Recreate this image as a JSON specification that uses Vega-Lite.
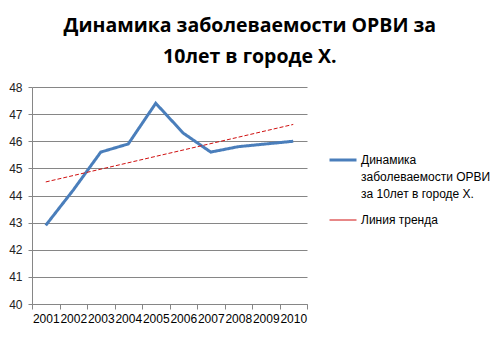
{
  "$schema": "https://vega.github.io/schema/vega-lite/v6.json",
  "width": 275,
  "height": 217,
  "padding": {"left": 8, "top": 15, "right": 5, "bottom": 5},
  "background": "white",
  "config": {"view": {"stroke": null}},
  "title": {
    "text": ["Динамика заболеваемости ОРВИ за", "10лет в городе Х."],
    "font": "Open Sans",
    "fontSize": 19.5,
    "fontWeight": "bold",
    "color": "black",
    "anchor": "middle",
    "frame": "bounds",
    "lineHeight": 31,
    "offset": 14
  },
  "data": {
    "values": [
      {"year": "2001", "series": "Динамика заболеваемости ОРВИ за 10лет в городе Х.", "value": 42.9},
      {"year": "2002", "series": "Динамика заболеваемости ОРВИ за 10лет в городе Х.", "value": 44.2},
      {"year": "2003", "series": "Динамика заболеваемости ОРВИ за 10лет в городе Х.", "value": 45.6},
      {"year": "2004", "series": "Динамика заболеваемости ОРВИ за 10лет в городе Х.", "value": 45.9},
      {"year": "2005", "series": "Динамика заболеваемости ОРВИ за 10лет в городе Х.", "value": 47.4},
      {"year": "2006", "series": "Динамика заболеваемости ОРВИ за 10лет в городе Х.", "value": 46.3},
      {"year": "2007", "series": "Динамика заболеваемости ОРВИ за 10лет в городе Х.", "value": 45.6},
      {"year": "2008", "series": "Динамика заболеваемости ОРВИ за 10лет в городе Х.", "value": 45.8},
      {"year": "2009", "series": "Динамика заболеваемости ОРВИ за 10лет в городе Х.", "value": 45.9},
      {"year": "2010", "series": "Динамика заболеваемости ОРВИ за 10лет в городе Х.", "value": 46.0},
      {"year": "2001", "series": "Линия тренда", "value": 44.5},
      {"year": "2010", "series": "Линия тренда", "value": 46.62}
    ]
  },
  "mark": {"type": "line"},
  "encoding": {
    "x": {
      "field": "year",
      "type": "ordinal",
      "bandPosition": 0.5,
      "scale": {"type": "band", "paddingInner": 0, "paddingOuter": 0},
      "axis": {
        "title": null,
        "labelAngle": 0,
        "tickBand": "extent",
        "tickSize": 5,
        "tickColor": "#868686",
        "domainColor": "#868686",
        "labelFont": "Liberation Sans",
        "labelFontSize": 12,
        "labelColor": "black",
        "labelPadding": 4,
        "grid": false
      }
    },
    "y": {
      "field": "value",
      "type": "quantitative",
      "scale": {"domain": [40, 48], "nice": false, "zero": false},
      "axis": {
        "title": null,
        "values": [40, 41, 42, 43, 44, 45, 46, 47, 48],
        "grid": true,
        "gridColor": "#868686",
        "gridOpacity": 1,
        "tickSize": 4,
        "tickColor": "#868686",
        "domainColor": "#868686",
        "labelFont": "Liberation Sans",
        "labelFontSize": 12,
        "labelColor": "#222",
        "labelPadding": 6
      }
    },
    "color": {
      "field": "series",
      "type": "nominal",
      "scale": {
        "domain": ["Динамика заболеваемости ОРВИ за 10лет в городе Х.", "Линия тренда"],
        "range": ["#4A7EBB", "#D01010"]
      },
      "legend": {
        "title": null,
        "orient": "none",
        "legendX": 296,
        "legendY": 58,
        "symbolType": "stroke",
        "symbolSize": 729,
        "labelFont": "Liberation Sans",
        "labelFontSize": 12,
        "labelColor": "black",
        "labelLimit": 200,
        "labelOffset": 3,
        "rowPadding": 6,
        "labelBaseline": "middle",
        "labelExpr": "datum.label == 'Линия тренда' ? datum.label : ['Динамика', 'заболеваемости ОРВИ', 'за 10лет в городе Х.']",
        "encode": {"labels": {"update": {"lineHeight": {"value": 17}}}}
      }
    },
    "strokeWidth": {
      "field": "series",
      "type": "nominal",
      "scale": {
        "domain": ["Динамика заболеваемости ОРВИ за 10лет в городе Х.", "Линия тренда"],
        "range": [3, 1]
      },
      "legend": {
        "title": null,
        "orient": "none",
        "legendX": 296,
        "legendY": 58,
        "symbolType": "stroke",
        "symbolSize": 729,
        "labelFont": "Liberation Sans",
        "labelFontSize": 12,
        "labelColor": "black",
        "labelLimit": 200,
        "labelOffset": 3,
        "rowPadding": 6,
        "labelBaseline": "middle",
        "labelExpr": "datum.label == 'Линия тренда' ? datum.label : ['Динамика', 'заболеваемости ОРВИ', 'за 10лет в городе Х.']",
        "encode": {"labels": {"update": {"lineHeight": {"value": 17}}}}
      }
    },
    "strokeDash": {
      "condition": {"test": "datum.series == 'Линия тренда'", "value": [4, 2]},
      "value": [1, 0]
    }
  }
}
